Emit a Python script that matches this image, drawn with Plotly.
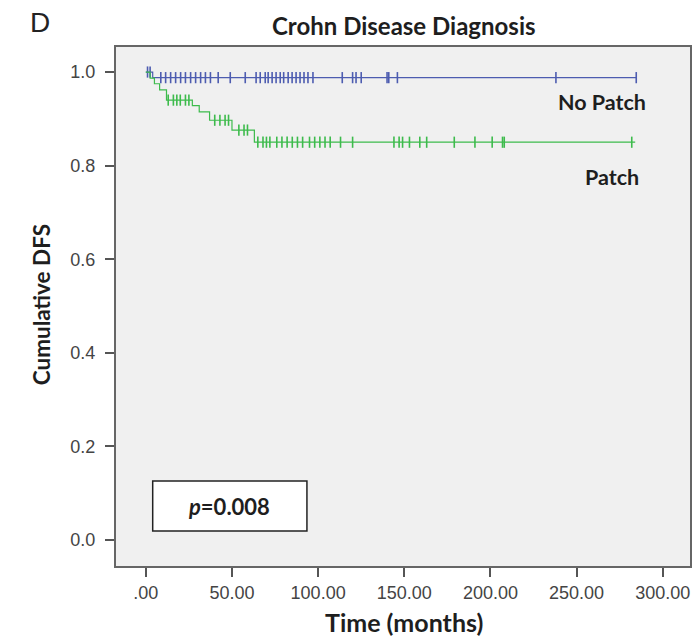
import numpy as np
import plotly.graph_objects as go

# Kaplan-Meier step functions (time in months, cumulative DFS)
nopatch_t = [0, 4, 284.6]
nopatch_s = [1.0, 0.988, 0.988]
patch_t = [0, 2.5, 5, 8, 12, 27, 31, 37, 50, 63, 284]
patch_s = [1.0, 0.987, 0.975, 0.962, 0.94, 0.928, 0.915, 0.897, 0.876, 0.85, 0.85]

# censored observations (months)
nopatch_cens = [1, 2.5, 8.7, 11.5, 14.4, 17.3, 20.2, 23, 26, 28.9, 31.8, 34.6, 37.5, 42, 49,
                57.7, 64, 66.4, 69.3, 71, 73.3, 75.6, 78, 80, 82.6, 84.9, 87.2, 89.5, 91.8,
                94.1, 97, 114, 120, 122, 125, 140, 141, 146, 238, 284.6]
patch_cens = [13, 16, 18, 20, 23, 25, 40, 43, 46, 48, 54, 57, 59, 65, 68, 70, 72, 76, 79,
              82, 85, 88, 91, 95, 98, 101, 104, 107, 113, 120, 144, 147, 149, 153, 159, 163,
              179, 191, 201, 207, 208, 282]

x_tickvals = [0, 50, 100, 150, 200, 250, 300]
x_ticktext = [".00", "50.00", "100.00", "150.00", "200.00", "250.00", "300.00"]
y_tickvals = [0.0, 0.2, 0.4, 0.6, 0.8, 1.0]

BLUE = "#4d5cb0"
GREEN = "#3dbb4c"

W, H = 699, 639
L, R, T, B = 116, 7, 47, 73


def px_to_paper(px, py):
    return (px - L) / (W - L - R), 1 - (py - T) / (H - T - B)


def surv_at(times, surv, t):
    idx = np.searchsorted(times, t, side="right") - 1
    return [surv[i] for i in idx]


fig = go.Figure()

for t, s, cens, col, name in [
    (nopatch_t, nopatch_s, nopatch_cens, BLUE, "No Patch"),
    (patch_t, patch_s, patch_cens, GREEN, "Patch"),
]:
    fig.add_trace(go.Scatter(x=t, y=s, mode="lines", line=dict(color=col, width=1.2, shape="hv"),
                             name=name, showlegend=False))
    fig.add_trace(go.Scatter(x=cens, y=surv_at(t, s, cens), mode="markers",
                             marker=dict(symbol="line-ns", size=8, line=dict(color=col, width=1.6)),
                             showlegend=False))

bold_font = "Lato, 'Open Sans', sans-serif"
tick_font = dict(family="'Liberation Sans', Arial, sans-serif", size=18, color="#444")
TXT = "#1e1e1e"

fig.add_annotation(x=291.6, y=0.936, xref="x", yref="y", text="<b>No Patch</b>", showarrow=False,
                   xanchor="right", yanchor="middle", font=dict(family=bold_font, size=21.5, color=TXT))
fig.add_annotation(x=287.5, y=0.775, xref="x", yref="y", text="<b>Patch</b>", showarrow=False,
                   xanchor="right", yanchor="middle", font=dict(family=bold_font, size=21.5, color=TXT))

# p-value box
fig.add_shape(type="rect", xref="x", yref="y", x0=4, x1=93.5, y0=0.019, y1=0.126,
              fillcolor="white", line=dict(color="#222", width=1.5))
fig.add_annotation(x=48.4, y=0.0725, xref="x", yref="y", text="<b><i>p</i>=0.008</b>",
                   showarrow=False, font=dict(family=bold_font, size=22, color=TXT))

# titles placed in pixel positions
labels = [
    (405, 25, "<b>Crohn Disease Diagnosis</b>", 0, dict(family=bold_font, size=24, color=TXT)),
    (40, 22, "D", 0, dict(family="'Liberation Sans', Arial, sans-serif", size=28, color="#222")),
    (405, 622, "<b>Time (months)</b>", 0, dict(family=bold_font, size=25, color=TXT)),
    (41, 305, "<b>Cumulative DFS</b>", -90, dict(family=bold_font, size=22.5, color=TXT)),
]
for px, py, text, ang, font in labels:
    x, y = px_to_paper(px, py)
    fig.add_annotation(x=x, y=y, xref="paper", yref="paper", text=text, showarrow=False,
                       xanchor="center", yanchor="middle", textangle=ang, font=font)

fig.update_layout(
    width=W, height=H,
    margin=dict(l=L, r=R, t=T, b=B),
    paper_bgcolor="white",
    plot_bgcolor="#f0f0f0",
    showlegend=False,
    xaxis=dict(range=[-17.3, 315.8], tickvals=x_tickvals, ticktext=x_ticktext,
               showgrid=False, zeroline=False, showline=True, mirror=True,
               linecolor="#666", linewidth=2, ticks="outside", ticklen=9, tickwidth=2,
               tickcolor="#555", tickfont=tick_font),
    yaxis=dict(range=[-0.0557, 1.0535], tickvals=y_tickvals, tickformat=".1f",
               showgrid=False, zeroline=False, showline=True, mirror=True,
               linecolor="#666", linewidth=2, ticks="outside", ticklen=9, tickwidth=2,
               tickcolor="#555", tickfont=tick_font, ticklabelstandoff=6),
)

fig.write_html("out.html")
